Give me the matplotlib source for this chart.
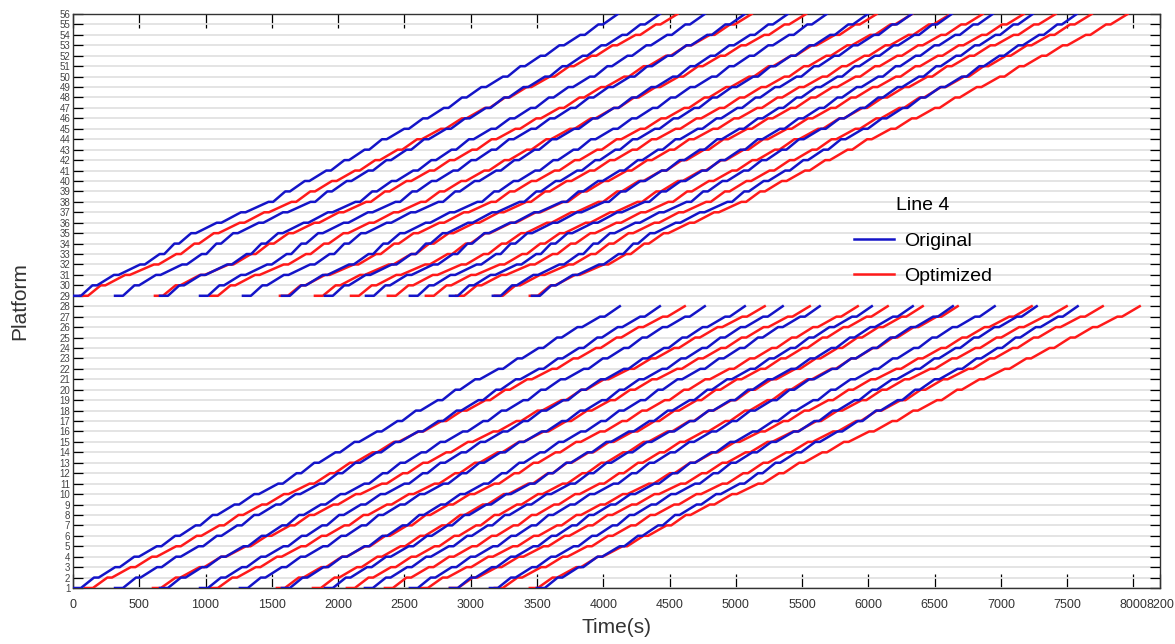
import matplotlib
matplotlib.use('Agg')
import matplotlib.pyplot as plt
import matplotlib.transforms as mtransforms
from matplotlib.lines import Line2D

plt.rcParams['font.family'] = ['Liberation Sans', 'DejaVu Sans']

# platforms served in each direction
down_platforms = list(range(1, 29))
up_platforms = list(range(29, 57))

# departure from the first platform / arrival at the last platform (s)
down_orig_dep = [0, 317, 656, 958, 1259, 1576, 1900, 2202, 2541, 2843, 3145, 3499]
down_orig_arr = [4125, 4427, 4766, 5068, 5354, 5633, 6026, 6335, 6637, 6953, 7270, 7579]
down_opt_dep = [90, 603, 1033, 1538, 1810, 2066, 2353, 2617, 2843, 3182, 3446]
down_opt_arr = [4615, 5218, 5558, 5920, 6146, 6410, 6674, 7232, 7496, 7768, 8047]

up_orig_dep = [0, 317, 656, 958, 1282, 1576, 1900, 2210, 2541, 2843, 3167, 3462]
up_orig_arr = [4110, 4427, 4766, 5068, 5392, 5686, 5995, 6327, 6629, 6938, 7240, 7572]
up_opt_dep = [53, 618, 1033, 1561, 1825, 2097, 2375, 2662, 2890, 3182, 3446]
up_opt_arr = [4560, 5120, 5530, 6063, 6330, 6620, 6863, 7172, 7413, 7685, 7956]

# section running times (s), 27 sections per direction
down_orig_run = [95, 120, 105, 130, 100, 115, 90, 125, 110, 140, 100, 95, 120, 105,
                 130, 115, 100, 125, 95, 110, 135, 105, 120, 100, 115, 130, 110]
down_opt_run = [100, 130, 115, 135, 110, 125, 100, 130, 120, 145, 110, 105, 125, 115,
                140, 125, 110, 130, 105, 120, 140, 115, 125, 110, 120, 135, 120]
up_orig_run = [85, 125, 160, 110, 75, 90, 155, 145, 170, 90, 110, 125, 100, 115,
               95, 130, 105, 120, 100, 110, 125, 95, 115, 105, 120, 100, 110]
up_opt_run = [90, 140, 170, 125, 95, 105, 150, 140, 160, 100, 120, 130, 110, 125,
              105, 135, 115, 130, 110, 120, 130, 105, 125, 115, 130, 110, 120]

first_dwell = 60
dwell = 35

x_ticks = [0, 500, 1000, 1500, 2000, 2500, 3000, 3500, 4000, 4500, 5000, 5500,
           6000, 6500, 7000, 7500, 8000, 8200]

BLUE = '#1414c8'
RED = '#ff1a1a'


def trip_path(dep, arr, platforms, run):
    # stretch the running times so the trip reaches the last platform at arr
    n = len(run)
    k = (arr - dep - first_dwell - dwell * (n - 1)) / sum(run)
    xs = [dep, dep + first_dwell]
    ys = [platforms[0], platforms[0]]
    t = dep + first_dwell
    for i in range(n):
        t += run[i] * k
        xs.append(t)
        ys.append(platforms[i + 1])
        if i < n - 1:
            t += dwell
            xs.append(t)
            ys.append(platforms[i + 1])
    return xs, ys


fig = plt.figure(figsize=(11.75, 6.44), dpi=100)
ax = fig.add_axes([73 / 1175, 1 - 588 / 644, 1087 / 1175, 574 / 644])

for platforms, runs in [(down_platforms, (down_orig_dep, down_orig_arr, down_orig_run,
                                          down_opt_dep, down_opt_arr, down_opt_run)),
                        (up_platforms, (up_orig_dep, up_orig_arr, up_orig_run,
                                        up_opt_dep, up_opt_arr, up_opt_run))]:
    o_dep, o_arr, o_run, p_dep, p_arr, p_run = runs
    for d, a in zip(p_dep, p_arr):
        xs, ys = trip_path(d, a, platforms, p_run)
        ax.plot(xs, ys, color=RED, lw=1.8, zorder=3)
    for d, a in zip(o_dep, o_arr):
        xs, ys = trip_path(d, a, platforms, o_run)
        ax.plot(xs, ys, color=BLUE, lw=1.8, zorder=3)

ax.set_xlim(0, 8200)
ax.set_ylim(1, 56)
ax.set_xticks(x_ticks)
ax.set_xticklabels([str(v) for v in x_ticks], fontsize=9, color='#333333')
# the last two ticks sit close together, nudge the 8000 label left a little
xlabels = ax.get_xticklabels()
xlabels[-2].set_transform(xlabels[-2].get_transform()
                          + mtransforms.ScaledTranslation(-4 / 100, 0, fig.dpi_scale_trans))
ax.set_yticks(range(1, 57))
ax.set_yticklabels([str(v) for v in range(1, 57)], fontsize=7, color='#444444')
ax.grid(axis='y', color='#e2e2e2', lw=1.3, zorder=0)
ax.tick_params(axis='x', direction='in', length=10, top=True, width=0.9, pad=8)
ax.tick_params(axis='y', direction='in', length=7, right=True, width=0.9, pad=2)
for s in ax.spines.values():
    s.set_color('#333333')
    s.set_linewidth(1.0)

ax.set_xlabel('Time(s)', fontsize=15, color='#333333', labelpad=5)
ax.set_ylabel('Platform', fontsize=15, color='#333333', labelpad=22)

handles = [Line2D([], [], color=BLUE, lw=1.8), Line2D([], [], color=RED, lw=1.8)]
leg = ax.legend(handles, ['Original', 'Optimized'], title='Line 4', frameon=False,
                loc='upper left', bbox_to_anchor=(836 / 1175, 1 - 180 / 644),
                bbox_transform=fig.transFigure, fontsize=14, title_fontsize=14,
                handlelength=2.1, labelspacing=0.9, handletextpad=0.5)

fig.savefig('out.png', dpi=100)
